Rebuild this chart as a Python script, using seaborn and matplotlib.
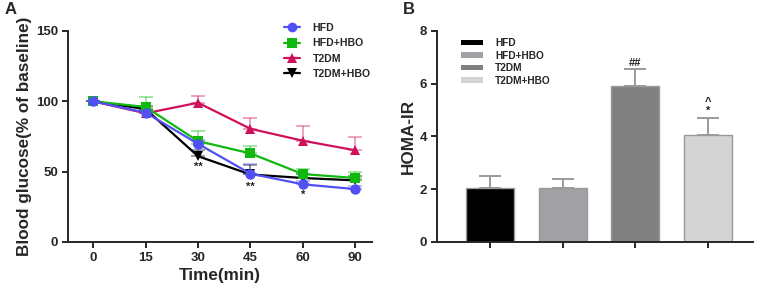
import numpy as np
import pandas as pd
import matplotlib
matplotlib.use("Agg")
import matplotlib.pyplot as plt
import seaborn as sns
from matplotlib.patches import Patch
from matplotlib.lines import Line2D

# ---------------- data ----------------
times = ["0", "15", "30", "45", "60", "90"]
groups = ["HFD", "HFD+HBO", "T2DM", "T2DM+HBO"]
hfd = [100, 92, 69.8, 48.6, 41, 37.6]
hfd_hbo = [100, 96, 71.7, 63, 48.3, 45.5]
t2dm = [100, 91.5, 99, 80.5, 72, 65.2]
t2dm_hbo = [100, 94.5, 61, 48, 45.5, 43.8]
hfd_err = [0, 1.5, 2.5, 6.5, 2.5, 2.5]
hfd_hbo_err = [0, 7.3, 6.9, 5.6, 3.7, 4.3]
t2dm_err = [0, 2.0, 4.8, 7.5, 10.4, 9.6]
t2dm_hbo_err = [0, 2.0, 4.5, 6.5, 3.0, 3.0]
sig_times = ["30", "45", "60"]
sig_labels = ["**", "**", "*"]
sig_y = [53.5, 39.5, 33.5]

homa = [2.05, 2.03, 5.93, 4.07]
homa_err = [0.47, 0.37, 0.62, 0.63]

colors_a = {"HFD": "#5050F5", "HFD+HBO": "#10B810", "T2DM": "#D0105A", "T2DM+HBO": "#000000"}
markers_a = {"HFD": "o", "HFD+HBO": "s", "T2DM": "^", "T2DM+HBO": "v"}
colors_b = {"HFD": "#000000", "HFD+HBO": "#A1A1A5", "T2DM": "#808080", "T2DM+HBO": "#D4D4D4"}

series = {"HFD": (hfd, hfd_err), "HFD+HBO": (hfd_hbo, hfd_hbo_err),
          "T2DM": (t2dm, t2dm_err), "T2DM+HBO": (t2dm_hbo, t2dm_hbo_err)}

rows = []
for g, (vals, errs) in series.items():
    for t, v, e in zip(times, vals, errs):
        rows.append({"time": t, "group": g, "value": v, "err": e})
df = pd.DataFrame(rows)
df["x"] = df["time"].map({t: i for i, t in enumerate(times)})

dfb = pd.DataFrame({"group": groups, "homa": homa, "err": homa_err})

# ---------------- style ----------------
sns.set_style("ticks")
plt.rcParams["font.family"] = ["Liberation Sans", "DejaVu Sans"]
plt.rcParams["font.weight"] = "bold"
plt.rcParams["axes.labelweight"] = "bold"
plt.rcParams["axes.linewidth"] = 1.4
plt.rcParams["xtick.major.width"] = 1.4
plt.rcParams["ytick.major.width"] = 1.4
plt.rcParams["xtick.major.size"] = 4
plt.rcParams["ytick.major.size"] = 4

fig = plt.figure(figsize=(7.6, 2.95), dpi=100)
axA = fig.add_axes([68 / 760, 1 - 242 / 295, 304 / 760, 211 / 295])
axB = fig.add_axes([437 / 760, 1 - 242 / 295, 316 / 760, 211 / 295])

# ---------------- panel A ----------------
draw_order = ["T2DM+HBO", "T2DM", "HFD+HBO", "HFD"]
for k, g in enumerate(draw_order):
    sub = df[df["group"] == g]
    axA.errorbar(sub["x"], sub["value"], yerr=[np.zeros(len(sub)), sub["err"]],
                 fmt="none", ecolor=colors_a[g], alpha=0.45, elinewidth=1.2,
                 capsize=5, capthick=1.2, zorder=1 + k)
    sns.lineplot(data=sub, x="x", y="value", ax=axA, color=colors_a[g],
                 marker=markers_a[g], markersize=7.5, markeredgewidth=0,
                 linewidth=1.6, legend=False, zorder=5 + k)

for t, lab, yv in zip(sig_times, sig_labels, sig_y):
    axA.text(times.index(t), yv, lab, ha="center", va="center", fontsize=8,
             fontweight="bold", color="#222222")

axA.set_xlim(-0.48, 5.32)
axA.set_ylim(0, 150)
axA.set_yticks([0, 50, 100, 150])
axA.set_xticks(range(len(times)))
axA.set_xticklabels(times)
axA.tick_params(labelsize=9.5, pad=3)
for lab in axA.get_xticklabels() + axA.get_yticklabels():
    lab.set_fontweight("bold")
axA.set_xlabel("Time(min)", fontsize=12.3, fontweight="bold", labelpad=3)
axA.set_ylabel("Blood glucose(% of baseline)", fontsize=12.3, fontweight="bold", labelpad=3)
sns.despine(ax=axA)

handlesA = [Line2D([0], [0], color=colors_a[g], marker=markers_a[g], markersize=7,
                   markeredgewidth=0, linewidth=1.6) for g in groups]
axA.legend(handlesA, groups, loc="upper left", bbox_to_anchor=(284 / 760, 1 - 23 / 295),
           bbox_transform=fig.transFigure, borderaxespad=0, borderpad=0,
           frameon=False, prop={"size": 7.6, "weight": "bold"},
           handlelength=1.5, labelspacing=0.5, handletextpad=1.2)

# ---------------- panel B ----------------
sns.barplot(data=dfb, x="group", y="homa", hue="group", palette=colors_b,
            order=groups, hue_order=groups, width=0.66, errorbar=None,
            edgecolor="#9a9a9a", linewidth=1.0, legend=False, ax=axB)
axB.errorbar(range(len(groups)), homa, yerr=[np.zeros(len(groups)), homa_err],
             fmt="none", ecolor="#9a9a9a", elinewidth=1.4, capsize=8, capthick=1.4,
             zorder=0)
axB.text(2, homa[2] + homa_err[2] + 0.25, "##", ha="center", va="center",
         fontsize=8, fontweight="bold", color="#222222")
axB.text(3, homa[3] + homa_err[3] + 0.27, "*", ha="center", va="center",
         fontsize=8, fontweight="bold", color="#222222")
axB.text(3, homa[3] + homa_err[3] + 0.6, "^", ha="center", va="center",
         fontsize=8, fontweight="bold", color="#222222")

axB.set_xlim(-0.73, 3.62)
axB.set_ylim(0, 8)
axB.set_yticks([0, 2, 4, 6, 8])
axB.set_xticks(range(len(groups)))
axB.set_xticklabels([])
axB.set_xlabel("")
axB.set_ylabel("HOMA-IR", fontsize=12.3, fontweight="bold", labelpad=3)
axB.tick_params(labelsize=9.5, pad=3)
for lab in axB.get_yticklabels():
    lab.set_fontweight("bold")
sns.despine(ax=axB)

handlesB = [Patch(facecolor=colors_b[g], edgecolor="none") for g in groups]
axB.legend(handlesB, groups, loc="upper left", bbox_to_anchor=(461 / 760, 1 - 38 / 295),
           bbox_transform=fig.transFigure, borderaxespad=0, borderpad=0,
           frameon=False, prop={"size": 7.3, "weight": "bold"},
           handlelength=2.2, handleheight=0.45, labelspacing=0.25, handletextpad=1.15)

fig.text(5 / 760, 1 - 9 / 295, "A", fontsize=12, fontweight="bold", va="center", ha="left")
fig.text(403 / 760, 1 - 10 / 295, "B", fontsize=12, fontweight="bold", va="center", ha="left")

fig.savefig("out.png", dpi=100)
